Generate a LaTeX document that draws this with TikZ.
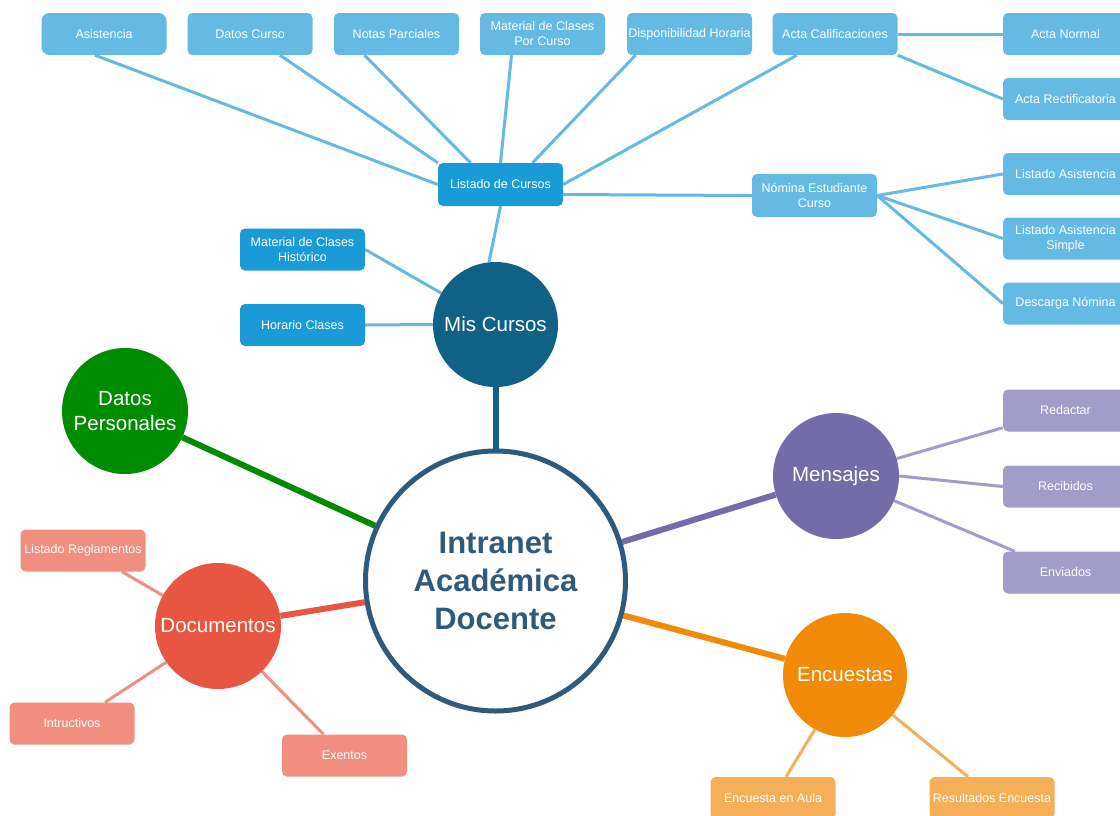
\documentclass[tikz,border=0pt]{standalone}
\usepackage{fontspec}
\setmainfont{Liberation Sans}
\usetikzlibrary{calc}
\pgfdeclarelayer{bg}
\pgfsetlayers{bg,main}
\definecolor{lb}{HTML}{64BAE2}
\definecolor{db}{HTML}{1A9AD6}
\definecolor{mcc}{HTML}{116186}
\definecolor{cc}{HTML}{2E5A7E}
\definecolor{gr}{HTML}{008C00}
\definecolor{docc}{HTML}{E75640}
\definecolor{docl}{HTML}{F08E80}
\definecolor{msgc}{HTML}{736CA9}
\definecolor{msgl}{HTML}{A29DC8}
\definecolor{encc}{HTML}{F08A07}
\definecolor{encl}{HTML}{F5AF59}
\begin{document}
\begin{tikzpicture}[x=1pt,y=-1pt,
  box/.style={rounded corners=5pt, minimum width=125pt, minimum height=42pt, inner xsep=1pt, inner ysep=2pt, text=white, font=\fontsize{12.5}{15}\selectfont, align=center},
  lbox/.style={box, fill=lb},
  dbox/.style={box, fill=db},
  pbox/.style={box, fill=docl},
  mbox/.style={box, fill=msgl},
  obox/.style={box, fill=encl},
  topic/.style={circle, minimum size=126pt, inner sep=0pt, text=white, align=center, font=\fontsize{20.5}{25}\selectfont},
  sub/.style={line width=3pt},
  main/.style={line width=6pt}
]
\clip (0,0) rectangle (1120,815);

% top boxes
\node[lbox, rounded corners=8pt] (asis) at (104,34) {Asistencia};
\node[lbox] (dcur) at (250,34) {Datos Curso};
\node[lbox] (npar) at (396.5,34) {Notas Parciales};
\node[lbox] (mpc) at (542.5,34) {Material de Clases\\Por Curso};
\node[lbox] (disp) at (689.5,34) {Disponibilidad Horaria};
\node[lbox] (acal) at (835,34) {Acta Calificaciones};
\node[lbox] (anor) at (1065.5,34) {Acta Normal};
\node[lbox] (arec) at (1065.5,99) {Acta Rectificatoria};
\node[dbox, minimum height=43pt] (lc) at (500.5,184.5) {Listado de Cursos};
\node[lbox, minimum height=43pt] (nom) at (814.5,195.5) {Nómina Estudiante\\Curso};
\node[lbox] (las) at (1065.5,174) {Listado Asistencia};
\node[lbox] (lass) at (1065.5,238.5) {Listado Asistencia\\Simple};
\node[lbox] (desc) at (1065.5,303.5) {Descarga Nómina};
\node[dbox] (mch) at (302.5,249.5) {Material de Clases\\Histórico};
\node[dbox] (hcl) at (302.5,325) {Horario Clases};

% topics
\node[topic, fill=mcc, minimum size=125pt] (mc) at (495.5,324.5) {Mis Cursos};
\node[circle, draw=cc, line width=5pt, fill=white, minimum size=260pt, inner sep=0pt, align=center, text=cc, font=\fontsize{31}{38}\selectfont\bfseries] (ctr) at (495.5,581) {Intranet\\Académica\\Docente};
\node[topic, fill=gr] (dp) at (125,411) {Datos\\Personales};
\node[topic, fill=docc] (doc) at (218,626) {Documentos};
\node[topic, fill=msgc] (msg) at (836,476) {Mensajes};
\node[topic, fill=encc, minimum size=124pt] (enc) at (845,675) {Encuestas};

% document boxes
\node[pbox] (lr) at (83,550.5) {Listado Reglamentos};
\node[pbox] (intr) at (72,723.5) {Intructivos};
\node[pbox] (exe) at (344.5,755.5) {Exentos};
% message boxes
\node[mbox] (red) at (1065.5,410.5) {Redactar};
\node[mbox] (rec) at (1065.5,486.5) {Recibidos};
\node[mbox] (env) at (1065.5,572.5) {Enviados};
% survey boxes
\node[obox] (ea) at (773,798) {Encuesta en Aula};
\node[obox] (re) at (992,798) {Resultados Encuesta};

\begin{pgfonlayer}{bg}
\fill[white] (0,0) rectangle (1120,815);
% main connectors
\draw[main, mcc] (mc) -- (ctr);
\draw[main, gr] (dp) -- (ctr);
\draw[main, docc] (doc) -- (ctr);
\draw[main, msgc] (msg) -- (ctr);
\draw[main, encc] (enc) -- (ctr);
% mis cursos branch
\draw[sub, lb] ($(asis.south)+(-9,0)$) -- (lc.west);
\draw[sub, lb] ($(dcur.south)+(30,0)$) -- (lc.north west);
\draw[sub, lb] ($(npar.south)+(-32,0)$) -- ($(lc.north)+(-30,0)$);
\draw[sub, lb] ($(mpc.south)+(-31,0)$) -- (lc.north);
\draw[sub, lb] ($(disp.south)+(-54,0)$) -- ($(lc.north)+(32,0)$);
\draw[sub, lb] ($(acal.south)+(-38,0)$) -- (lc.east);
\draw[sub, lb] (acal.east) -- (anor.west);
\draw[sub, lb] (acal.south east) -- (arec.west);
\draw[sub, lb] ($(lc.east)+(0,10)$) -- (nom.west);
\draw[sub, lb] (nom.east) -- (las.west);
\draw[sub, lb] (nom.east) -- (lass.west);
\draw[sub, lb] (nom.east) -- (desc.west);
\draw[sub, lb] (lc.south) -- (mc.96);
\draw[sub, lb] (mch.east) -- (mc.150);
\draw[sub, lb] (hcl.east) -- (mc.west);
% documentos
\draw[sub, docl] (doc.151) -- ($(lr.south)+(39,0)$);
\draw[sub, docl] (doc.215) -- ($(intr.north)+(33,0)$);
\draw[sub, docl] (doc.-46) -- ($(exe.north)+(-21,0)$);
% mensajes
\draw[sub, msgl] (msg.16) -- ($(red.south west)+(0,-4)$);
\draw[sub, msgl] (msg.east) -- (rec.west);
\draw[sub, msgl] (msg.-23) -- ($(env.north west)+(12,0)$);
% encuestas
\draw[sub, encl] (enc.241) -- ($(ea.north)+(13,0)$);
\draw[sub, encl] (enc.-40) -- ($(re.north)+(-24,0)$);
\end{pgfonlayer}
\end{tikzpicture}
\end{document}
